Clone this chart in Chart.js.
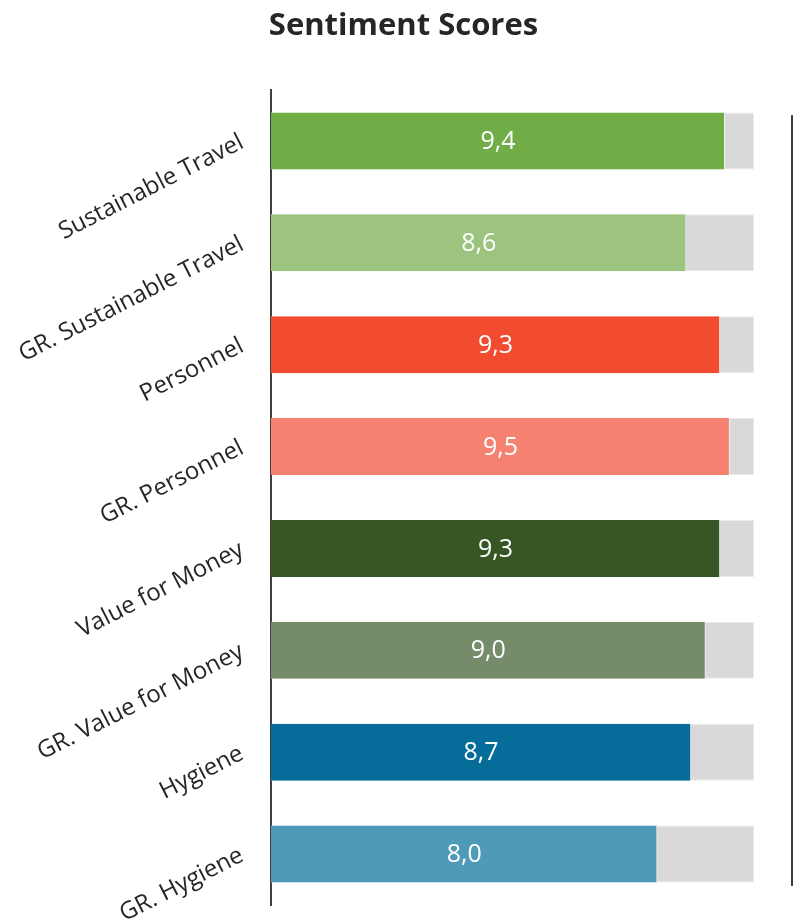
<!DOCTYPE html>
<html>
<head>
<meta charset="utf-8">
<script src="https://cdn.jsdelivr.net/npm/chart.js@4"></script>
<style>
  html, body { margin: 0; padding: 0; background: #ffffff; }
  #wrap { width: 793px; height: 923px; }
</style>
</head>
<body>
<div id="wrap"><canvas id="chart" width="793" height="923"></canvas></div>
<script>
// Categories (top to bottom)
const categories = [
  'Sustainable Travel',
  'GR. Sustainable Travel',
  'Personnel',
  'GR. Personnel',
  'Value for Money',
  'GR. Value for Money',
  'Hygiene',
  'GR. Hygiene'
];

// Sentiment score per category (0–10 scale)
const scores = [9.4, 8.6, 9.3, 9.5, 9.3, 9.0, 8.7, 8.0];

// Full-scale track shown behind each score
const scaleMax = [10, 10, 10, 10, 10, 10, 10, 10];

// Bar colours per category
const barColors = [
  '#70ad47', '#9dc47f',
  '#f14b30', '#f58270',
  '#375623', '#768b69',
  '#066d9a', '#4f9ab8'
];

const chartTitle = 'Sentiment Scores';

const FONT = '"Open Sans", "DejaVu Sans", sans-serif';

// Heading above the plot
const heading = {
  id: 'heading',
  afterDraw(chart) {
    const ctx = chart.ctx;
    ctx.save();
    ctx.fillStyle = '#262626';
    ctx.font = 'bold 31px ' + FONT;
    ctx.textAlign = 'center';
    ctx.textBaseline = 'middle';
    ctx.fillText(chartTitle, chart.width / 2 + 7, 26);
    ctx.restore();
  }
};

// Writes each score inside its bar, decimal comma style
const valueLabels = {
  id: 'valueLabels',
  afterDatasetsDraw(chart) {
    const meta = chart.getDatasetMeta(1);
    const ctx = chart.ctx;
    ctx.save();
    ctx.fillStyle = '#ffffff';
    ctx.font = '25px ' + FONT;
    ctx.textAlign = 'center';
    ctx.textBaseline = 'middle';
    meta.data.forEach((bar, i) => {
      const p = bar.getCenterPoint();
      ctx.fillText(scores[i].toFixed(1).replace('.', ','), p.x, p.y + 1);
    });
    ctx.restore();
  }
};

// Thin divider line to the right of the plot
const rightRule = {
  id: 'rightRule',
  afterDraw(chart) {
    const a = chart.chartArea;
    const ctx = chart.ctx;
    ctx.save();
    ctx.strokeStyle = '#404040';
    ctx.lineWidth = 2;
    ctx.beginPath();
    ctx.moveTo(a.right + 38, a.top + 25);
    ctx.lineTo(a.right + 38, a.bottom - 19);
    ctx.stroke();
    ctx.restore();
  }
};

new Chart(document.getElementById('chart'), {
  type: 'bar',
  data: {
    labels: categories,
    datasets: [
      {
        label: 'Scale',
        data: scaleMax,
        backgroundColor: '#d9d9d9',
        borderColor: '#ebebeb',
        borderWidth: 1,
        borderSkipped: false,
        order: 2
      },
      {
        label: 'Score',
        data: scores,
        backgroundColor: barColors,
        borderColor: '#f4f4f4',
        borderWidth: { left: 0, top: 0, bottom: 0, right: 1 },
        borderSkipped: false,
        order: 1
      }
    ]
  },
  options: {
    indexAxis: 'y',
    responsive: false,
    animation: false,
    devicePixelRatio: 1,
    datasets: {
      bar: {
        grouped: false,
        barPercentage: 0.56,
        categoryPercentage: 1.0
      }
    },
    layout: {
      padding: { left: 0, right: 39, top: 90, bottom: 18 }
    },
    plugins: {
      legend: { display: false },
      tooltip: { enabled: false },
      title: { display: false }
    },
    scales: {
      x: {
        display: false,
        min: 0,
        max: 10
      },
      y: {
        grid: { display: false, drawTicks: false },
        border: { display: true, color: '#404040', width: 2 },
        ticks: {
          color: '#262626',
          font: { family: FONT, size: 24 },
          padding: 29,
          minRotation: 27,
          maxRotation: 27
        },
        afterFit(scale) {
          scale.width = 271;
          scale.paddingTop = 0;
          scale.paddingBottom = 0;
        }
      }
    }
  },
  plugins: [heading, valueLabels, rightRule]
});
</script>
</body>
</html>
